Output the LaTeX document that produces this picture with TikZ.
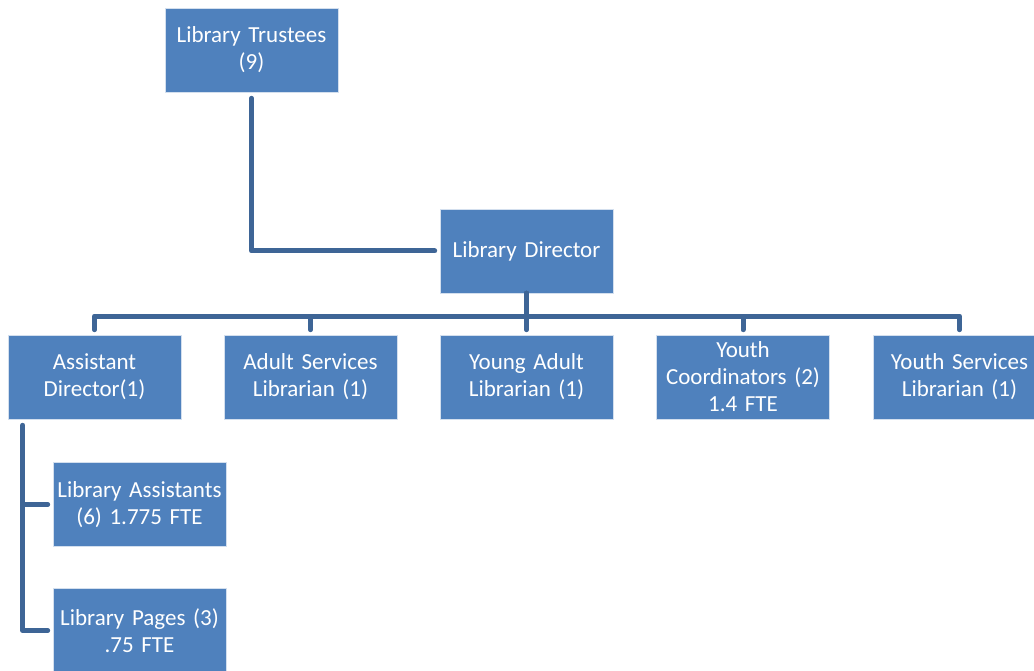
\documentclass[tikz,border=0pt]{standalone}
\usepackage{fontspec}
\setmainfont{Carlito}
\usetikzlibrary{positioning}

\definecolor{boxblue}{RGB}{79,129,189}
\definecolor{lineblue}{RGB}{62,101,150}

\begin{document}
\begin{tikzpicture}[x=1pt, y=-1pt,
    staff/.style={rectangle, fill=boxblue, draw=white!75!boxblue, line width=0.6pt,
        minimum width=173pt, minimum height=84pt, text width=173pt, inner sep=0pt,
        align=center, text=white, font=\fontsize{23}{27}\selectfont},
    link/.style={draw=lineblue, line width=5pt, line cap=round, line join=round}]

    \useasboundingbox (0,0) rectangle (1034,671);

    \node [staff] (trust) at (251.5 , 50) {Library Trustees\\(9)};
    \node [staff] (dir) at (526.5 , 251) {Library Director};

    \node [staff] (ad) at (94.5 , 377) {Assistant\\Director(1)};
    \node [staff] (asl) at (310.5 , 377) {Adult Services\\Librarian (1)};
    \node [staff] (yal) at (526.5 , 377) {Young Adult\\Librarian (1)};
    \node [staff] (yc) at (743 , 377) {Youth\\Coordinators (2)\\1.4 FTE};
    \node [staff] (ysl) at (959.5 , 377) {Youth Services\\Librarian (1)};

    \node [staff] (la) at (139.5 , 504.5) {Library Assistants\\(6) 1.775 FTE};
    \node [staff] (lp) at (139.5 , 630.5) {Library Pages (3)\\.75 FTE};

    \coordinate (bus) at (0 , 316);

 \path[link]
      ([yshift=-6pt]trust.south) |- ([xshift=-5pt]dir.west);
 \foreach \c in {ad, asl, yal, yc, ysl}
   \path[link] (dir.south) -- (dir.south |- bus) -| ([yshift=5pt]\c.north);
 \path[link]
      ([xshift=15pt, yshift=-6pt]ad.south west) |- ([xshift=-5pt]la.west)
      ([xshift=15pt, yshift=-6pt]ad.south west) |- ([xshift=-5pt]lp.west);
\end{tikzpicture}
\end{document}
